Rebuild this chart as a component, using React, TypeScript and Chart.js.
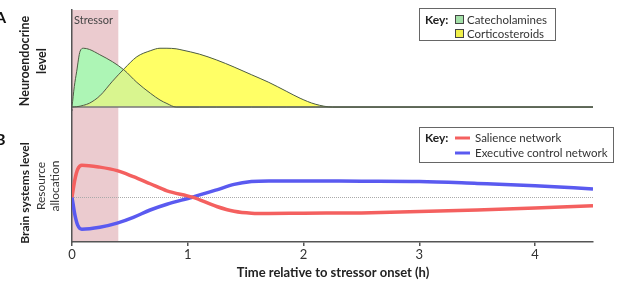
import React, { useEffect, useRef } from 'react';
import { Chart, registerables } from 'chart.js';
Chart.register(...registerables);

// ---- data ----
const timesA = [0, 0.02, 0.04, 0.07, 0.1, 0.15, 0.24, 0.35, 0.45, 0.56, 0.68, 0.76, 0.82, 0.9, 0.95, 1.1, 1.25, 1.4, 1.55, 1.7, 1.85, 1.97, 2.1, 2.25, 4.5];
const catecholamines = [0, 0.35, 0.6, 0.95, 1.0, 0.98, 0.89, 0.77, 0.63, 0.42, 0.23, 0.12, 0.06, 0.0, 0, 0, 0, 0, 0, 0, 0, 0, 0, 0, 0];
const corticosteroids = [0, 0.003, 0.006, 0.015, 0.03, 0.065, 0.19, 0.44, 0.65, 0.855, 0.96, 1.0, 1.0, 0.99, 0.97, 0.9, 0.8, 0.68, 0.55, 0.42, 0.27, 0.15, 0.05, 0, 0];

const timesB = [0, 0.025, 0.05, 0.085, 0.24, 0.39, 0.53, 0.675, 0.82, 1.04, 1.25, 1.4, 1.55, 1.7, 2.0, 2.5, 3.0, 3.5, 4.0, 4.5];
const salience = [0, 0.55, 0.88, 1.0, 0.94, 0.83, 0.64, 0.42, 0.2, 0, -0.29, -0.44, -0.5, -0.51, -0.5, -0.49, -0.45, -0.4, -0.34, -0.27];
const executive = [0, -0.55, -0.88, -1.0, -0.94, -0.81, -0.63, -0.4, -0.22, 0, 0.23, 0.4, 0.49, 0.51, 0.51, 0.5, 0.49, 0.43, 0.36, 0.26];

const xTicks = [0, 1, 2, 3, 4];
const stressorWindow = [0, 0.4];
const seriesNames = ['Catecholamines', 'Corticosteroids', 'Salience network', 'Executive control network'];

const FONT = "Lato, 'Open Sans', sans-serif";
const COL = {
  stressor: '#ebcbcf',
  mint: '#adf5b5',
  yellow: '#ffff66',
  overlap: '#d9f58f',
  outline: '#4f5b45',
  red: '#f4605f',
  blue: '#5a5af0',
  axis: '#555555',
  text: '#333333',
};

function vtext(ctx: CanvasRenderingContext2D, text: string, x: number, y: number, font: string, color: string) {
  ctx.save();
  ctx.translate(x, y);
  ctx.rotate(-Math.PI / 2);
  ctx.font = font;
  ctx.fillStyle = color;
  ctx.textAlign = 'center';
  ctx.textBaseline = 'middle';
  ctx.fillText(text, 0, 0);
  ctx.restore();
}

const overlay = {
  id: 'overlay',
  beforeDraw(chart: any) {
    const { ctx, chartArea, scales } = chart;
    const x0 = scales.x.getPixelForValue(stressorWindow[0]);
    const x1 = scales.x.getPixelForValue(stressorWindow[1]);
    ctx.save();
    ctx.fillStyle = COL.stressor;
    ctx.fillRect(x0, chartArea.top, x1 - x0, chartArea.bottom - chartArea.top);
    ctx.restore();
  },
  beforeDatasetsDraw(chart: any) {
    const { ctx, chartArea, scales } = chart;
    ctx.save();
    const yA0 = scales.yA.getPixelForValue(0);
    ctx.strokeStyle = '#777';
    ctx.lineWidth = 1.5;
    ctx.beginPath();
    ctx.moveTo(chartArea.left, yA0);
    ctx.lineTo(chartArea.right, yA0);
    ctx.stroke();
    const yB0 = scales.yB.getPixelForValue(0);
    ctx.strokeStyle = '#aaa';
    ctx.lineWidth = 1;
    ctx.setLineDash([1, 1]);
    ctx.beginPath();
    ctx.moveTo(chartArea.left, Math.round(yB0) + 0.5);
    ctx.lineTo(chartArea.right, Math.round(yB0) + 0.5);
    ctx.stroke();
    ctx.restore();
  },
  afterDraw(chart: any) {
    const { ctx, scales } = chart;
    ctx.save();
    ctx.font = `11px ${FONT}`;
    ctx.fillStyle = '#444';
    ctx.textAlign = 'left';
    ctx.textBaseline = 'middle';
    ctx.fillText('Stressor', scales.x.getPixelForValue(stressorWindow[0]) + 2, 20);

    ctx.font = `bold 16px ${FONT}`;
    ctx.fillStyle = '#111';
    ctx.fillText('A', -5, 18);
    ctx.fillText('B', -5, 140);

    vtext(ctx, 'Neuroendocrine', 25, 61, `bold 12.5px ${FONT}`, '#222');
    vtext(ctx, 'level', 42, 61, `bold 12.5px ${FONT}`, '#222');
    vtext(ctx, 'Brain systems level', 25, 193, `bold 12px ${FONT}`, '#222');
    vtext(ctx, 'Resource', 41, 186, `12px ${FONT}`, COL.text);
    vtext(ctx, 'allocation', 55, 186, `12px ${FONT}`, COL.text);

    ctx.font = `bold 13px ${FONT}`;
    ctx.fillStyle = '#222';
    ctx.textAlign = 'center';
    ctx.textBaseline = 'middle';
    ctx.fillText('Time relative to stressor onset (h)', 333, 273);

    // legend A
    ctx.fillStyle = '#fff';
    ctx.fillRect(419, 8, 136, 33);
    ctx.strokeStyle = '#666';
    ctx.lineWidth = 1;
    ctx.strokeRect(419.5, 8.5, 136, 32);
    ctx.textAlign = 'left';
    ctx.font = `bold 12px ${FONT}`;
    ctx.fillStyle = '#222';
    ctx.fillText('Key:', 425, 20);
    ctx.font = `11.5px ${FONT}`;
    [20, 34].forEach((yy, i) => {
      ctx.fillStyle = i === 0 ? '#a3e0a8' : '#f0f04a';
      ctx.fillRect(455, yy - 4, 8, 8);
      ctx.strokeStyle = '#444';
      ctx.strokeRect(455.5, yy - 4.5, 8, 8);
      ctx.fillStyle = COL.text;
      ctx.fillText(seriesNames[i], 467, yy);
    });

    // legend B
    ctx.fillStyle = '#fff';
    ctx.fillRect(419, 127, 195, 36);
    ctx.strokeStyle = '#666';
    ctx.strokeRect(419.5, 127.5, 194, 35);
    ctx.font = `bold 12px ${FONT}`;
    ctx.fillStyle = '#222';
    ctx.fillText('Key:', 425, 138);
    ctx.font = `11.5px ${FONT}`;
    [[138, COL.red], [153, COL.blue]].forEach(([yy, c]: any, i) => {
      ctx.strokeStyle = c;
      ctx.lineWidth = 3;
      ctx.beginPath();
      ctx.moveTo(455, yy);
      ctx.lineTo(470, yy);
      ctx.stroke();
      ctx.fillStyle = COL.text;
      ctx.fillText(seriesNames[2 + i], 475, yy);
    });
    ctx.restore();
  },
};

export default function App() {
  const ref = useRef<HTMLCanvasElement>(null);
  useEffect(() => {
    document.body.style.margin = '0';
    const ptsA1 = timesA.map((t, i) => ({ x: t, y: catecholamines[i] }));
    const ptsA2 = timesA.map((t, i) => ({ x: t, y: corticosteroids[i] }));
    const ptsB1 = timesB.map((t, i) => ({ x: t, y: salience[i] }));
    const ptsB2 = timesB.map((t, i) => ({ x: t, y: executive[i] }));
    const chart = new Chart(ref.current!, {
      type: 'line',
      data: {
        datasets: [
          {
            label: seriesNames[0], data: ptsA1, yAxisID: 'yA',
            borderColor: COL.outline, borderWidth: 1,
            fill: { target: 1, above: COL.mint, below: COL.yellow } as any,
            pointRadius: 0, cubicInterpolationMode: 'monotone',
          },
          {
            label: seriesNames[1], data: ptsA2, yAxisID: 'yA',
            borderColor: COL.outline, borderWidth: 1,
            backgroundColor: COL.overlap, fill: 'origin',
            pointRadius: 0, cubicInterpolationMode: 'monotone',
          },
          {
            label: seriesNames[2], data: ptsB1, yAxisID: 'yB',
            borderColor: COL.red, borderWidth: 3.5, fill: false,
            pointRadius: 0, cubicInterpolationMode: 'monotone',
          },
          {
            label: seriesNames[3], data: ptsB2, yAxisID: 'yB',
            borderColor: COL.blue, borderWidth: 3.5, fill: false,
            pointRadius: 0, cubicInterpolationMode: 'monotone',
          },
        ],
      },
      options: {
        responsive: false,
        animation: false,
        layout: { padding: { left: 72, right: 25, top: 10, bottom: 0 } },
        plugins: {
          legend: { display: false },
          tooltip: { enabled: false },
          filler: { drawTime: 'beforeDatasetsDraw', propagate: false } as any,
        },
        scales: {
          x: {
            type: 'linear', min: 0, max: 4.5,
            afterBuildTicks: (s: any) => { s.ticks = xTicks.map((v) => ({ value: v })); },
            afterFit: (s: any) => { s.height = 42; },
            ticks: { font: { family: FONT, size: 13 }, color: COL.text, padding: 1, maxRotation: 0 },
            grid: { drawOnChartArea: false, drawTicks: true, tickLength: 4, color: COL.axis, lineWidth: 1.5 },
            border: { display: true, color: COL.axis, width: 1.5 },
          },
          yB: {
            type: 'linear', position: 'left', stack: 'panels', stackWeight: 132,
            min: -1.4, max: 2.725,
            ticks: { display: false },
            grid: { display: false },
            border: { display: true, color: COL.axis, width: 1.5 },
            afterFit: (s: any) => { s.width = 0; },
          },
          yA: {
            type: 'linear', position: 'left', stack: 'panels', stackWeight: 100,
            min: -0.05, max: 1.65,
            ticks: { display: false },
            grid: { display: false },
            border: { display: true, color: COL.axis, width: 1.5 },
            afterFit: (s: any) => { s.width = 0; },
          },
        },
      },
      plugins: [overlay],
    });
    return () => chart.destroy();
  }, []);
  return (
    <div style={{ position: 'relative', width: 618, height: 284 }}>
      <canvas ref={ref} width={618} height={284} />
    </div>
  );
}
